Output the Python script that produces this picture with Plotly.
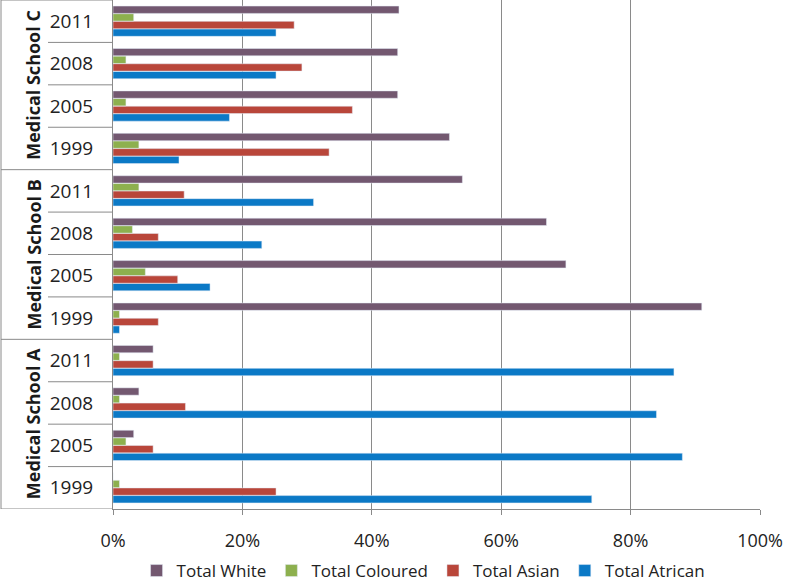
import plotly.graph_objects as go

schools = ["Medical School A", "Medical School B", "Medical School C"]
years = ["1999", "2005", "2008", "2011"]

# values in %, order: A1999..A2011, B1999..B2011, C1999..C2011
white = [0, 3.2, 4, 6.2, 91, 70, 67, 54, 52, 44, 44, 44.2]
coloured = [1, 2, 1, 1, 1, 5, 3, 4, 4, 2, 2, 3.2]
asian = [25.2, 6.2, 11.2, 6.2, 7, 10, 7, 11, 33.4, 37, 29.2, 28]
african = [74, 88, 84, 86.7, 1, 15, 23, 31, 10.2, 18, 25.2, 25.2]

x_ticks = [0, 20, 40, 60, 80, 100]
x_labels = [str(v) + "%" for v in x_ticks]

cats = [s + "|" + y for s in schools for y in years]
ticks = [y for s in schools for y in years]

fig = go.Figure()
# added bottom-to-top inside each group
fig.add_trace(go.Bar(y=cats, x=african, name="Total Atrican", orientation="h", marker_color="#0B79C6"))
fig.add_trace(go.Bar(y=cats, x=asian, name="Total Asian", orientation="h", marker_color="#B9463A"))
fig.add_trace(go.Bar(y=cats, x=coloured, name="Total Coloured", orientation="h", marker_color="#8DB04E"))
fig.add_trace(go.Bar(y=cats, x=white, name="Total White", orientation="h", marker_color="#735870"))

pw = 647  # plot width in px
line = dict(color="#8a8a8a", width=1)
shapes = []
n = len(cats)
for i in range(n + 1):
    y = i - 0.5
    x0 = -112 / pw if i % 4 == 0 else -65 / pw
    shapes.append(dict(type="line", xref="paper", yref="y", x0=x0, x1=0, y0=y, y1=y, line=line))
shapes.append(dict(type="line", xref="paper", yref="paper", x0=-112 / pw, x1=-112 / pw, y0=0, y1=1, line=line))

annotations = []
for k, s in enumerate(schools):
    annotations.append(dict(
        text="<b>" + s + "</b>", xref="paper", yref="y", x=-94 / pw, y=k * 4 + 1.5,
        textangle=-90, showarrow=False, font=dict(size=18, color="#1a1a1a"),
    ))

fig.update_layout(
    width=788, height=585,
    margin=dict(l=113, r=28, t=0, b=76),
    plot_bgcolor="white", paper_bgcolor="white",
    barmode="group", bargap=0.28, bargroupgap=0.04,
    font=dict(family="Open Sans, sans-serif", size=17, color="#222222"),
    shapes=shapes, annotations=annotations,
    legend=dict(orientation="h", x=0.48, xanchor="center", yref="container", y=14 / 585, yanchor="middle",
                traceorder="reversed", font=dict(size=17)),
)
fig.update_xaxes(range=[0, 100], tickvals=x_ticks, ticktext=x_labels, automargin=False,
                 tickfont=dict(size=18),
                 showgrid=True, gridcolor="#8a8a8a", gridwidth=1, showline=True, linecolor="#8a8a8a",
                 ticks="outside", ticklen=5, tickcolor="#8a8a8a", zeroline=False, ticklabelstandoff=10)
fig.update_yaxes(type="category", categoryorder="array", categoryarray=cats, automargin=False,
                 tickvals=cats, ticktext=ticks, range=[-0.5, n - 0.5], tickfont=dict(size=19),
                 showline=True, linecolor="#8a8a8a", ticks="", ticklabelstandoff=15, showgrid=False)

fig.write_html("out.html", config={"displayModeBar": False},
               post_script="document.body.style.margin='0';")
